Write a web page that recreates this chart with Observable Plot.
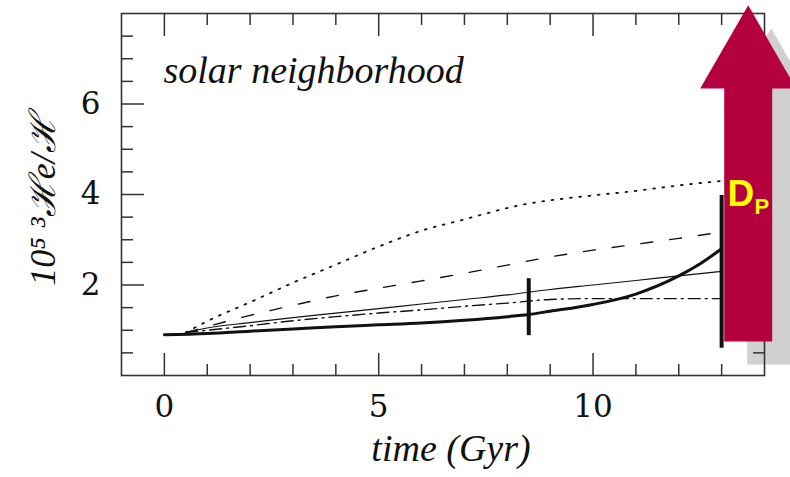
<!DOCTYPE html>
<html><head><meta charset="utf-8">
<script src="https://cdn.jsdelivr.net/npm/d3@7"></script>
<script src="https://cdn.jsdelivr.net/npm/@observablehq/plot@0.6"></script>
<style>html,body{margin:0;padding:0;background:#fff;} svg{display:block}</style>
</head><body><div id="chart"></div>
<script>
// ---- data (time in Gyr, value = 10^5 3He/H) ----
const dottedTime  = [0.5, 1, 2, 3, 4, 5, 6, 7, 8, 8.5, 9, 10, 11, 12, 13];
const dottedValue = [0.95, 1.2, 1.62, 2.05, 2.45, 2.85, 3.2, 3.45, 3.7, 3.8, 3.87, 3.98, 4.08, 4.2, 4.3];
const modelTime   = [0.5, 1, 2, 3, 4, 5, 6, 7, 8, 9, 10, 11, 12, 13];
const dashedValue = [0.95, 1.08, 1.33, 1.55, 1.76, 1.93, 2.09, 2.26, 2.44, 2.62, 2.77, 2.9, 3.03, 3.17];
const thinValue   = [0.95, 1.05, 1.17, 1.28, 1.38, 1.48, 1.58, 1.68, 1.78, 1.9, 2.0, 2.1, 2.2, 2.3];
const dashDotValue= [0.95, 1.0, 1.1, 1.21, 1.3, 1.38, 1.45, 1.53, 1.6, 1.68, 1.7, 1.7, 1.7, 1.7];
const thickTime   = [0, 1, 2, 3, 4, 5, 6, 7, 8, 8.5, 9, 10, 11, 12, 12.5, 13];
const thickValue  = [0.9, 0.93, 0.98, 1.03, 1.08, 1.12, 1.16, 1.22, 1.3, 1.35, 1.42, 1.57, 1.8, 2.2, 2.47, 2.8];
const barTime = [8.5, 13];
const barLow  = [0.88, 0.6];
const barHigh = [2.14, 3.98];
const xMajor = [0, 5, 10];
const xMinor = [1, 2, 3, 4, 6, 7, 8, 9, 11, 12, 13];
const yMajor = [2, 4, 6];
const yMinor = [0.5, 1, 1.5, 2.5, 3, 3.5, 4.5, 5, 5.5, 6.5, 7, 7.5];
const title = "solar neighborhood";
const xTitle = "time (Gyr)";
const yTitle = "10\u2075 \u00B3\u210Be/\u210B";
const arrowLabel = "D";
const arrowSub = "P";

// arrow annotation outline (data units)
const arrowX = [13.62, 14.74, 14.18, 14.18, 13.06, 13.06, 12.5];
const arrowY = [8.18, 6.34, 6.34, 0.75, 0.75, 6.34, 6.34];

const pts = (xs, ys) => xs.map((x, i) => ({x, y: ys[i]}));
const arrowPts = pts(arrowX, arrowY);
const bars = barTime.map((t, i) => ({t, lo: barLow[i], hi: barHigh[i]}));

const serifIt = "'Liberation Serif', 'DejaVu Serif', serif";
const tickFont = "'DejaVu Serif', serif";
const ink = "#111";
const frameInk = "#333";

const chart = Plot.plot({
  width: 790, height: 477,
  marginLeft: 121, marginRight: 26, marginTop: 13, marginBottom: 102,
  x: {domain: [-1, 14]},
  y: {domain: [0, 8]},
  style: {background: "#fff", overflow: "visible"},
  marks: [
    Plot.line(pts(dottedTime, dottedValue), {x: "x", y: "y", stroke: ink, strokeWidth: 1.8, strokeDasharray: "1.8,7.5", strokeLinecap: "round", curve: "monotone-x"}),
    Plot.line(pts(modelTime, dashedValue), {x: "x", y: "y", stroke: ink, strokeWidth: 1.4, strokeDasharray: "12,17", curve: "monotone-x"}),
    Plot.line(pts(modelTime, thinValue), {x: "x", y: "y", stroke: ink, strokeWidth: 1.2, curve: "monotone-x"}),
    Plot.line(pts(modelTime, dashDotValue), {x: "x", y: "y", stroke: ink, strokeWidth: 1.4, strokeDasharray: "12,5,2,5", curve: "monotone-x"}),
    Plot.line(pts(thickTime, thickValue), {x: "x", y: "y", stroke: ink, strokeWidth: 3, curve: "monotone-x"}),
    Plot.ruleX(bars, {x: "t", y1: "lo", y2: "hi", stroke: ink, strokeWidth: 4}),
    // arrow shadow
    Plot.line(arrowPts, {x: "x", y: "y", fill: "#d0d0d0", stroke: "none", curve: "linear-closed", dx: 23, dy: 23}),
    Plot.frame({stroke: frameInk, strokeWidth: 1.6}),
    // ticks (inward)
    Plot.axisX(xMinor, {anchor: "bottom", tickSize: -11, tickFormat: () => "", label: null, stroke: frameInk, strokeWidth: 1.5}),
    Plot.axisX(xMajor, {anchor: "bottom", tickSize: -22, tickFormat: () => "", label: null, stroke: frameInk, strokeWidth: 1.5}),
    Plot.axisX(xMinor, {anchor: "top", tickSize: -11, tickFormat: () => "", label: null, stroke: frameInk, strokeWidth: 1.5}),
    Plot.axisX(xMajor, {anchor: "top", tickSize: -22, tickFormat: () => "", label: null, stroke: frameInk, strokeWidth: 1.5}),
    Plot.axisY(yMinor, {anchor: "left", tickSize: -12, tickFormat: () => "", label: null, stroke: frameInk, strokeWidth: 1.5}),
    Plot.axisY(yMajor, {anchor: "left", tickSize: -23, tickFormat: () => "", label: null, stroke: frameInk, strokeWidth: 1.5}),
    Plot.axisY(yMinor, {anchor: "right", tickSize: -12, tickFormat: () => "", label: null, stroke: frameInk, strokeWidth: 1.5}),
    Plot.axisY(yMajor, {anchor: "right", tickSize: -23, tickFormat: () => "", label: null, stroke: frameInk, strokeWidth: 1.5}),
    // tick labels
    Plot.axisX(xMajor, {anchor: "bottom", tickSize: 0, tickPadding: 19, label: null, fontSize: 31, fontFamily: tickFont, fill: ink}),
    Plot.axisY(yMajor, {anchor: "left", tickSize: 0, tickPadding: 21, label: null, fontSize: 31, fontFamily: tickFont, fill: ink}),
    // arrow
    Plot.line(arrowPts, {x: "x", y: "y", fill: "#b4003f", stroke: "none", curve: "linear-closed"}),
    Plot.text([arrowLabel], {frameAnchor: "top-right", text: d => d, textAnchor: "start", lineAnchor: "bottom", dx: -37, dy: 192, fontSize: 37, fontWeight: "bold", fontFamily: "'Liberation Sans', Arial, sans-serif", fill: "#ffff00"}),
    Plot.text([arrowSub], {frameAnchor: "top-right", text: d => d, textAnchor: "start", lineAnchor: "bottom", dx: -10, dy: 200, fontSize: 22, fontWeight: "bold", fontFamily: "'Liberation Sans', Arial, sans-serif", fill: "#ffff00"}),
    // titles
    Plot.text([title], {frameAnchor: "top-left", text: d => d, textAnchor: "start", lineAnchor: "bottom", dx: 42, dy: 69, fontSize: 38, fontStyle: "italic", fontFamily: serifIt, fill: ink}),
    Plot.text([xTitle], {frameAnchor: "bottom", text: d => d, textAnchor: "middle", lineAnchor: "bottom", dx: 8, dy: 85, fontSize: 38, fontStyle: "italic", fontFamily: serifIt, fill: ink}),
    Plot.text([yTitle], {frameAnchor: "left", text: d => d, textAnchor: "middle", lineAnchor: "bottom", rotate: -90, dx: -67, dy: 6, fontSize: 36, fontStyle: "italic", fontFamily: serifIt, fill: ink})
  ]
});
document.getElementById("chart").appendChild(chart);
</script>
</body></html>
